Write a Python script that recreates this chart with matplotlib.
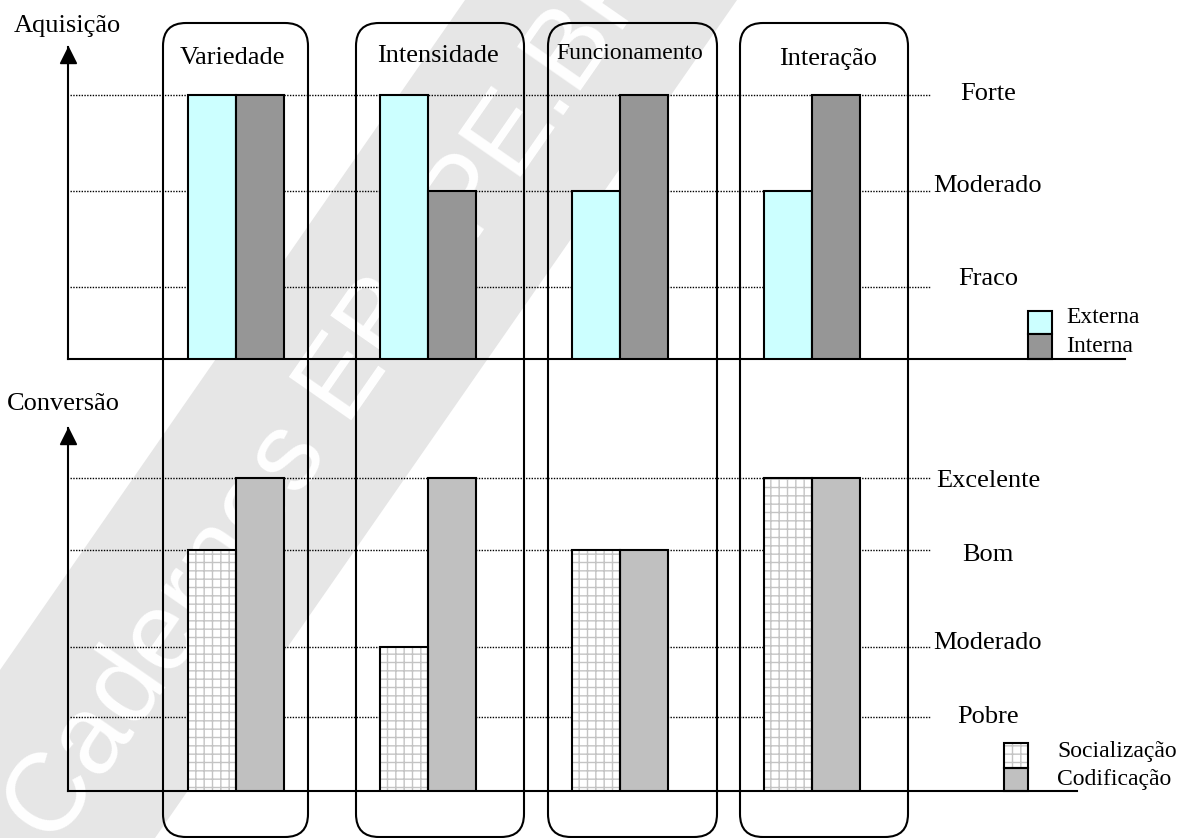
import numpy as np
import matplotlib.pyplot as plt
from matplotlib.patches import FancyBboxPatch, Polygon, Rectangle

plt.rcParams['font.family'] = ['Liberation Serif', 'DejaVu Serif']
plt.rcParams['hatch.linewidth'] = 1.0

# Dados
categorias = ['Variedade', 'Intensidade', 'Funcionamento', 'Interação']
niveis_aquisicao = ['Fraco', 'Moderado', 'Forte']
externa = ['Forte', 'Forte', 'Moderado', 'Moderado']
interna = ['Forte', 'Moderado', 'Forte', 'Forte']
niveis_conversao = ['Pobre', 'Moderado', 'Bom', 'Excelente']
socializacao = ['Bom', 'Moderado', 'Bom', 'Excelente']
codificacao = ['Excelente', 'Excelente', 'Bom', 'Excelente']

# Layout (em pixels da figura)
W, H = 1186, 838
x0, passo = 236, 192          # centro do primeiro grupo, distancia entre grupos
larg = 0.25                   # largura de cada barra (em grupos)
alt_aquisicao = [72, 168, 264]        # altura das linhas acima da base
alt_conversao = [74, 144, 241, 313]
rot_aquisicao = [74, 167, 259]        # linha de base dos rotulos
rot_conversao = [68, 142, 230, 304]
caixas = [(163, 308), (356, 524), (548, 717), (740, 908)]
titulos = [(232, 64, 19), (438, 62, 19), (630, 59, 17), (828, 65, 19)]

cor_ext, cor_int = '#ccffff', '#969696'
cor_cod, cor_grade = '#c0c0c0', '#c4c4c4'
lw = 1.5

fig = plt.figure(figsize=(W / 100, H / 100), dpi=100)
bg = fig.add_axes([0, 0, 1, 1])
bg.set_xlim(0, W)
bg.set_ylim(H, 0)
bg.axis('off')

# marca d'agua
bg.add_patch(Polygon([(465, 0), (737, 0), (155, H), (0, H), (0, 670)],
                     closed=True, fc='#e6e6e6', ec='none', zorder=0))
bg.text(30, 832, 'Cadernos EBAPE.BR', color='white', fontsize=80,
        family='Liberation Sans', rotation=55.2, rotation_mode='anchor',
        ha='left', va='center', zorder=1)

# caixas arredondadas
for (l, r), nome, (cx, by, fs) in zip(caixas, categorias, titulos):
    bg.add_patch(FancyBboxPatch((l, 23), r - l, 814,
                                boxstyle='round,pad=0,rounding_size=23',
                                fc='none', ec='black', lw=lw, zorder=2))
    bg.text(cx, by, nome, ha='center', va='baseline', fontsize=fs, zorder=3)

bg.text(14, 32, 'Aquisição', va='baseline', fontsize=19)
bg.text(7, 410, 'Conversão', va='baseline', fontsize=19)

# legendas
bg.add_patch(Rectangle((1028, 311), 24, 23, fc=cor_ext, ec='black', lw=lw, zorder=3))
bg.add_patch(Rectangle((1028, 334), 24, 25, fc=cor_int, ec='black', lw=lw, zorder=3))
bg.text(1066, 323, 'Externa', va='baseline', fontsize=17)
bg.text(1066, 352, 'Interna', va='baseline', fontsize=17)
bg.add_patch(Rectangle((1004, 743), 24, 25, fc='white', ec=cor_grade, hatch='++',
                       lw=0, zorder=3))
bg.add_patch(Rectangle((1004, 743), 24, 25, fill=False, ec='black', lw=lw, zorder=4))
bg.add_patch(Rectangle((1004, 768), 24, 23, fc=cor_cod, ec='black', lw=lw, zorder=3))
bg.text(1057, 757, 'Socialização', va='baseline', fontsize=17)
bg.text(1057, 785, 'Codificação', va='baseline', fontsize=17)


def painel(base, topo, direita):
    ax = fig.add_axes([68 / W, 1 - base / H, (direita - 68) / W, (base - topo) / H])
    ax.set_xlim((68 - x0) / passo, (direita - x0) / passo)
    ax.set_ylim(0, base - topo)
    ax.patch.set_visible(False)
    for s in ['top', 'right']:
        ax.spines[s].set_visible(False)
    for s in ['left', 'bottom']:
        ax.spines[s].set_linewidth(lw)
    ax.set_xticks([])
    ax.set_yticks([])
    ax.plot(ax.get_xlim()[0], base - topo - 8, marker='^', ms=11.5,
            color='black', clip_on=False)
    return ax


x = np.arange(len(categorias))
xfim = (930 - x0) / passo
xrot = (988 - x0) / passo

# Aquisicao
ax1 = painel(359, 47, 1125)
ax1.hlines(alt_aquisicao, (70 - x0) / passo, xfim, colors='black',
           linestyles=(0, (1, 1)), lw=1.0, zorder=1)
h_ext = [alt_aquisicao[niveis_aquisicao.index(v)] for v in externa]
h_int = [alt_aquisicao[niveis_aquisicao.index(v)] for v in interna]
ax1.bar(x - larg / 2, h_ext, larg, color=cor_ext, ec='black', lw=lw, zorder=3)
ax1.bar(x + larg / 2, h_int, larg, color=cor_int, ec='black', lw=lw, zorder=3)
for nome, y in zip(niveis_aquisicao, rot_aquisicao):
    ax1.text(xrot, y, nome, ha='center', va='baseline', fontsize=19)

# Conversao
ax2 = painel(791, 428, 1077)
ax2.hlines(alt_conversao, (70 - x0) / passo, xfim, colors='black',
           linestyles=(0, (1, 1)), lw=1.0, zorder=1)
h_soc = [alt_conversao[niveis_conversao.index(v)] for v in socializacao]
h_cod = [alt_conversao[niveis_conversao.index(v)] for v in codificacao]
ax2.bar(x - larg / 2, h_soc, larg, color='white', ec=cor_grade, hatch='++',
        lw=0, zorder=3)
ax2.bar(x - larg / 2, h_soc, larg, fill=False, ec='black', lw=lw, zorder=4)
ax2.bar(x + larg / 2, h_cod, larg, color=cor_cod, ec='black', lw=lw, zorder=3)
for nome, y in zip(niveis_conversao, rot_conversao):
    ax2.text(xrot, y, nome, ha='center', va='baseline', fontsize=19)

fig.savefig('out.png', dpi=100)
